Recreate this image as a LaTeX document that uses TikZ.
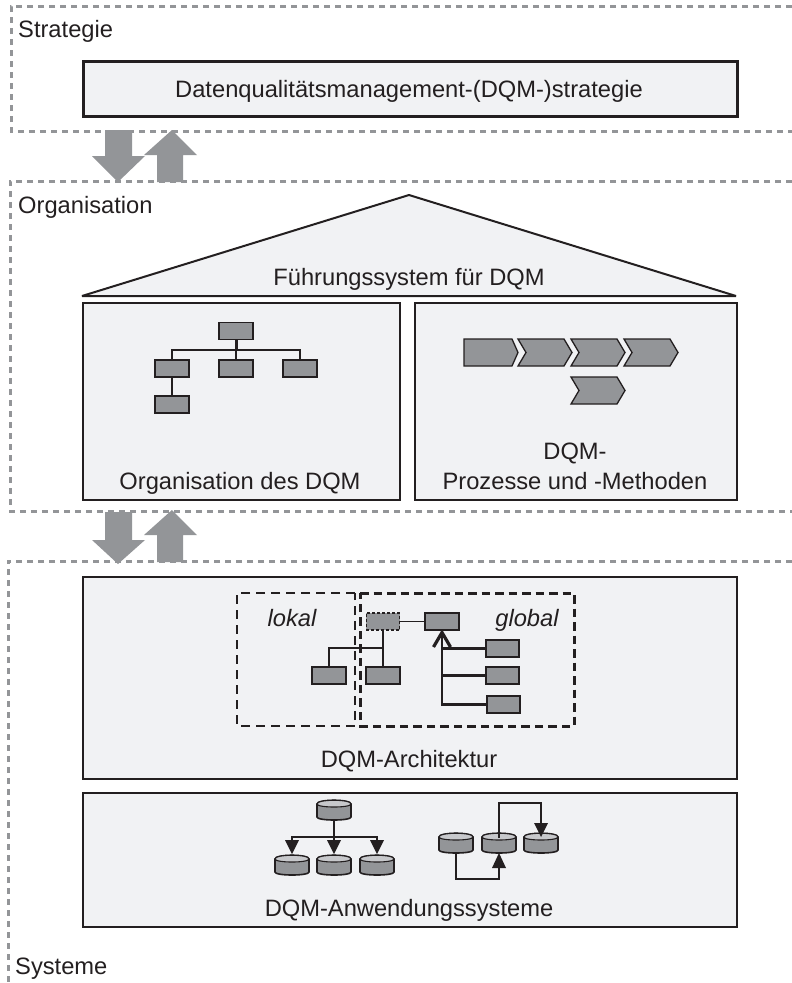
\documentclass[tikz,border=0pt]{standalone}
\usepackage{fontspec}
\setmainfont{Liberation Sans}
\definecolor{dashgray}{HTML}{939598}
\definecolor{panelfill}{HTML}{F1F2F4}
\definecolor{boxgray}{HTML}{939598}
\definecolor{arrowgray}{HTML}{939598}
\definecolor{ink}{HTML}{231F20}
\tikzset{
  x=1pt,y=-1pt,
  region/.style={draw=dashgray,line width=3pt,dash pattern=on 6pt off 5pt},
  panel/.style={draw=ink,line width=2.2pt,fill=panelfill,inner sep=0pt,anchor=north west},
  box/.style={draw=ink,line width=1.7pt,fill=boxgray,minimum width=33.5pt,minimum height=17pt,inner sep=0pt},
  conn/.style={draw=ink,line width=1.5pt},
  bold/.style={draw=ink,line width=2.5pt},
  bigarrow/.style={fill=arrowgray,draw=none},
  chev/.style={draw=ink,line width=1.3pt,fill=boxgray,line join=miter},
  label/.style={font=\fontsize{23.7}{31}\selectfont,text=ink,inner sep=0pt,anchor=base},
  ilabel/.style={font=\fontsize{23.7}{31}\selectfont\itshape,text=ink,inner sep=0pt,anchor=base},
  tip/.style={fill=ink,draw=none},
  disc/.style={draw=ink,line width=1.6pt,fill=boxgray},
}
\newcommand{\dbcyl}[3]{%
  \draw[disc] (#1-17,#2-5) -- (#1-17,#2+8) .. controls (#1-17,#2+12) and (#1+17,#2+12) .. (#1+17,#2+8) -- (#1+17,#2-5) .. controls (#1+17,#2-10) and (#1-17,#2-10) .. (#1-17,#2-5) -- cycle;
  \draw[line width=1.1pt,draw=ink,fill=panelfill!55!boxgray] (#1-17,#2-5) .. controls (#1-17,#2-10) and (#1+17,#2-10) .. (#1+17,#2-5) .. controls (#1+17,#2-1) and (#1-17,#2-1) .. (#1-17,#2-5) -- cycle;
  \coordinate (#3) at (#1,#2);
}
\begin{document}
\begin{tikzpicture}
\useasboundingbox (0,0) rectangle (792,983);
% regions
\draw[region] (792,6) -- (11,6) -- (11,131) -- (792,131);
\draw[region] (792,181) -- (10,181) -- (10,511) -- (792,511);
\draw[region] (792,561) -- (8,561) -- (8,983);
% block arrows
\fill[bigarrow] (105,130) -- (132,130) -- (132,156) -- (145,156) -- (118,182) -- (92,156) -- (105,156) -- cycle;
\fill[bigarrow] (157,182) -- (183,182) -- (183,155) -- (197,155) -- (172,130) -- (144,155) -- (157,155) -- cycle;
\fill[bigarrow] (105,512) -- (132,512) -- (132,540) -- (145,540) -- (118,564) -- (92,540) -- (105,540) -- cycle;
\fill[bigarrow] (157,562) -- (183,562) -- (183,535) -- (197,535) -- (172,510) -- (144,535) -- (157,535) -- cycle;
% labels
\node[label,anchor=base west] (lstrat) at (18,37) {Strategie};
\node[label,anchor=base west] (lorg) at (18,213) {Organisation};
\node[label,anchor=base west] (lsys) at (15,974) {Systeme};
% strategy
\node[panel,line width=3pt,minimum width=654pt,minimum height=55pt] (strat) at (82,60) {};
\node[label] (stratt) at (409,97) {Datenqualitätsmanagement-(DQM-)strategie};
% roof
\draw[draw=ink,line width=2pt,fill=panelfill,line join=bevel] (82,296) -- (409,195) -- (736,296) -- cycle;
\node[label] (roof) at (409,285) {Führungssystem für DQM};
% org panels
\node[panel,minimum width=317pt,minimum height=197pt] (porg) at (82,302) {};
\node[panel,minimum width=322pt,minimum height=197pt] (pproc) at (414,302) {};
\node[label] (torg) at (240,489) {Organisation des DQM};
\node[label] (tproc1) at (575,459) {DQM-};
\node[label] (tproc2) at (575,489) {Prozesse und -Methoden};
% org chart
\node[box] (o1) at (236,331) {};
\node[box] (o2) at (172,368.5) {};
\node[box] (o3) at (236,368.5) {};
\node[box] (o4) at (300,368.5) {};
\node[box] (o5) at (172,404.5) {};
\coordinate (obus) at (236,350);
\draw[conn] (o2.north) |- (o4.north |- obus) -- (o4.north);
\draw[bold,line width=3pt] (o1.south) -- (obus);
\draw[conn] (obus) -- (o3.north);
\draw[conn,line width=2pt] (o2.south) -- (o5.north);
% chevrons
\draw[chev] (464,339) -- (512,339) -- (518,352.5) -- (512,366) -- (464,366) -- cycle;
\foreach \d in {0,53,106}{
  \draw[chev] (518+\d,339) -- (564+\d,339) -- (572+\d,352.5) -- (564+\d,366) -- (518+\d,366) -- (526+\d,352.5) -- cycle;
}
\draw[chev] (571,377) -- (617,377) -- (625,390.5) -- (617,404) -- (571,404) -- (579,390.5) -- cycle;
% architecture
\node[panel,minimum width=654pt,minimum height=202pt] (parch) at (82,576) {};
\node[label] (tarch) at (409,767) {DQM-Architektur};
\draw[draw=ink,line width=1.2pt,dash pattern=on 9pt off 6pt] (355,593) -- (237,593) -- (237,726) -- (355,726) -- cycle;
\draw[draw=ink,line width=3pt,dash pattern=on 8.5pt off 5pt] (360,593) -- (574,593) -- (574,726) -- (360,726) -- cycle;
\node[ilabel] (tlok) at (292,626) {lokal};
\node[ilabel] (tglob) at (527,626) {global};
\node[box,dash pattern=on 3pt off 2pt,line width=1.3pt] (a1) at (383,621.5) {};
\node[box] (a2) at (442,621.5) {};
\node[box] (a3) at (329,675.5) {};
\node[box] (a4) at (383,675.5) {};
\node[box] (a5) at (502.5,648.5) {};
\node[box] (a6) at (502.5,675.5) {};
\node[box] (a7) at (503.5,704.5) {};
\coordinate (abus) at (383,648);
\draw[conn] (a1.east) -- (a2.west);
\draw[bold] (a1.south) -- (abus);
\draw[conn] (a3.north) |- (abus) -- (a4.north);
\coordinate (acol) at (442,704.5);
\draw[bold] (a7.west) -- (acol) -- (a2.south);
\draw[bold] (a6.west) -- (a6.west -| acol);
\draw[bold] (a5.west) -- (a5.west -| acol);
\draw[bold,line width=3.2pt] (433.5,647) -- (442,632.5) -- (450.5,647);
% apps
\node[panel,minimum width=654pt,minimum height=134pt] (papp) at (82,792) {};
\node[label] (tapp) at (409,916) {DQM-Anwendungssysteme};
\dbcyl{334}{809}{d0}
\dbcyl{292}{864}{d1}
\dbcyl{334}{864}{d2}
\dbcyl{377}{864}{d3}
\dbcyl{456}{842}{d4}
\dbcyl{499}{842}{d5}
\dbcyl{541}{842}{d6}
\draw[bold] (d0 |- 0,820) -- (d0 |- 0,837);
\draw[bold] (d1 |- 0,845) |- (d3 |- 0,837) -- (d3 |- 0,845);
\draw[bold] (d2 |- 0,837) -- (d2 |- 0,845);
\foreach \n in {d1,d2,d3}{\fill[tip] ([xshift=-7pt]\n |- 0,840) -- ([xshift=7pt]\n |- 0,840) -- (\n |- 0,854) -- cycle;}
\draw[bold] (d4 |- 0,853) |- (d5 |- 0,879) -- (d5 |- 0,865);
\fill[tip] ([xshift=-7pt]d5 |- 0,868) -- ([xshift=7pt]d5 |- 0,868) -- (d5 |- 0,853) -- cycle;
\draw[bold] (d5 |- 0,838) |- (d6 |- 0,803) -- (d6 |- 0,826);
\fill[tip] ([xshift=-7pt]d6 |- 0,823) -- ([xshift=7pt]d6 |- 0,823) -- (d6 |- 0,837) -- cycle;
\end{tikzpicture}
\end{document}
